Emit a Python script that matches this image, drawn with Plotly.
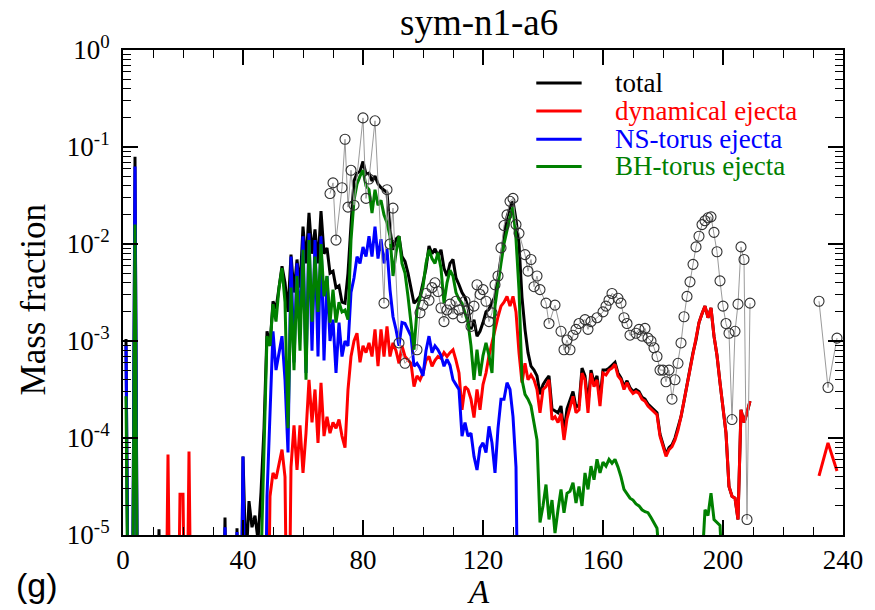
import plotly.graph_objects as go

# ---------------------------------------------------------------------------
# Nucleosynthesis yields of model sym-n1-a6: mass fraction versus mass number A.
# Values are stored as log10(mass fraction); FLOOR marks abundances far below
# the plotted range (the curve simply drops off the bottom axis there).
# ---------------------------------------------------------------------------
FLOOR = -7.0
F = FLOOR

# total ejecta
total_A = [1, 2, 3, 4, 5, 11, 12, 13, 33, 34, 35, 37, 38, 39, 40, 41, 42, 43, 44, 45, 46, 47] + list(range(48, 210))
total_log = [
    -2.98, F, F, -1.10, F, F, -4.94, F, F, -4.82, F, F, -4.93, F, -4.19, -5.3, -4.65, -4.92, -4.80, -5.05, -4.56, -3.9,
    -2.90, -3.05, -2.59, -2.67, -2.45, -2.23, -2.40, -2.70, -2.11, -2.50,
    -2.16, -2.45, -1.82, -2.20, -1.68, -2.10, -1.85, -2.20, -1.66, -2.10,
    -2.04, -2.30, -2.28, -2.45, -2.43, -2.60, -2.61, -2.30, -1.80, -1.35,
    -1.27, -1.25, -1.15, -1.28, -1.27, -1.35, -1.30, -1.38, -1.42, -1.45,
    -1.47, -1.85, -2.06, -1.95, -1.92, -2.13, -2.18, -2.30, -2.47, -2.61,
    -2.58, -2.54, -2.40, -2.25, -2.02, -2.10, -2.05, -2.12, -2.06, -2.25,
    -2.33, -2.20, -2.16, -2.35, -2.42, -2.50, -2.55, -2.65, -2.88, -2.78,
    -2.95, -2.90, -2.81, -2.70, -2.67, -2.60, -2.54, -2.35, -2.15, -1.92,
    -1.72, -1.62, -1.56, -1.75, -2.00, -2.55, -2.88, -3.12, -3.26, -3.30,
    -3.36, -3.55, -3.45, -3.40, -3.36, -3.70, -3.72, -3.74, -3.67, -3.95,
    -3.70, -3.60, -3.52, -3.68, -3.66, -3.28, -3.36, -3.65, -3.30, -3.43,
    -3.36, -3.60, -3.30, -3.30, -3.28, -3.25, -3.22, -3.33, -3.38, -3.47,
    -3.41, -3.48, -3.52, -3.50, -3.52, -3.58, -3.60, -3.65, -3.68, -3.72,
    -3.74, -3.96, -4.08, -4.17, -4.10, -4.07, -4.00, -3.90, -3.78, -3.62,
    -3.45, -3.30, -3.12, -2.99, -2.81, -2.72, -2.64, -2.76, -2.66, -2.95,
    -3.15, -3.43, -3.70, -3.95, -4.50, -4.60, -4.62, -4.84, -3.71, -3.84,
    -3.74, -3.62,
]

# dynamical ejecta (None breaks the line between A=209 and the actinides)
dyn_A = [14, 15, 16, 18, 19, 20, 21, 22, 23] + list(range(48, 210)) + [220, 232, 235, 238]
dyn_log = [
    F, -4.17, F, F, -4.58, -4.58, F, -4.14, F,
    F, -4.60, -4.36, -4.42, -4.25, -4.12, -4.40, F, -4.30, -3.87,
    -4.33, -3.87, -4.36, -3.95, -3.40, -3.84, -3.50, -4.05, -3.43, -3.98,
    -3.78, -3.95, -3.84, -3.90, -3.81, -3.98, -4.10, -3.50, -3.16, -3.00,
    -2.92, -3.22, -3.05, -3.12, -3.02, -3.16, -2.88, -3.26, -2.88, -3.16,
    -2.85, -3.16, -3.02, -3.10, -3.23, -3.05, -3.16, -3.20, -3.23, -3.47,
    -3.36, -3.40, -3.33, -3.20, -3.16, -3.26, -3.20, -3.16, -3.18, -3.12,
    -3.16, -3.12, -3.09, -3.20, -3.33, -3.71, -3.47, -3.50, -3.60, -3.79,
    -3.50, -3.71, -3.45, -3.33, -3.15, -3.02, -2.88, -2.75, -2.64, -2.60,
    -2.54, -2.64, -2.54, -2.70, -3.12, -3.43, -3.23, -3.40, -3.35, -3.40,
    -3.50, -3.74, -3.50, -3.47, -3.40, -3.81, -3.78, -3.84, -3.75, -4.02,
    -3.80, -3.67, -3.57, -3.74, -3.71, -3.33, -3.40, -3.74, -3.33, -3.47,
    -3.40, -3.67, -3.33, -3.35, -3.30, -3.28, -3.24, -3.36, -3.40, -3.50,
    -3.43, -3.50, -3.54, -3.52, -3.54, -3.60, -3.62, -3.67, -3.70, -3.74,
    -3.76, -3.98, -4.10, -4.19, -4.12, -4.09, -4.02, -3.92, -3.78, -3.62,
    -3.45, -3.30, -3.12, -2.99, -2.81, -2.72, -2.64, -2.76, -2.66, -2.95,
    -3.15, -3.43, -3.70, -3.95, -4.50, -4.60, -4.62, -4.84, -3.71, -3.84,
    -3.74, -3.62,
    None, -4.39, -4.05, -4.34,
]

# NS-torus ejecta
ns_A = [1, 2, 3, 4, 5, 33, 34, 35, 37, 38, 39, 40, 41, 47] + list(range(48, 133))
ns_log = [
    -3.05, F, F, -1.20, F, F, -4.92, F, F, -4.97, F, -4.19, F, F,
    -4.60, -3.80, -2.90, -3.30, -3.10, -2.95, -3.40, -4.15, -2.13, -3.22,
    -2.20, -2.90, -1.92, -3.33, -1.89, -3.10, -1.96, -3.16, -1.92, -3.20,
    -2.33, -3.00, -2.78, -3.33, -2.81, -3.16, -3.00, -3.05, -2.50, -2.35,
    -2.13, -2.20, -2.03, -2.13, -1.92, -2.13, -1.82, -2.15, -1.95, -2.20,
    -2.05, -2.47, -2.75, -2.88, -3.05, -2.81, -2.82, -2.88, -2.95, -3.26,
    -3.23, -3.28, -3.36, -3.10, -2.95, -3.12, -3.05, -3.09, -3.15, -3.26,
    -3.19, -3.25, -3.40, -3.45, -3.50, -3.98, -3.84, -3.98, -3.95, -4.19,
    -4.33, -4.10, -4.05, -4.15, -3.88, -4.05, -4.36, -3.90, -3.60, -3.60,
    -3.43, -3.50, -3.78, -4.30, F,
]

# BH-torus ejecta
bh_A = [1, 2, 3, 4, 5, 45, 46, 47] + list(range(48, 202))
bh_log = [
    -3.57, F, F, -1.80, F, F, -5.3, -4.0,
    -2.95, -3.05, -2.62, -2.80, -2.45, -2.25, -2.60, -3.90, -2.45, -3.30,
    -2.33, -3.10, -2.06, -3.40, -1.96, -2.80, -2.13, -2.70, -2.00, -2.54,
    -2.33, -2.81, -2.47, -2.81, -2.60, -2.70, -2.68, -2.78, -1.96, -1.55,
    -1.38, -1.30, -1.24, -1.40, -1.44, -1.68, -1.44, -1.60, -1.55, -1.70,
    -1.78, -1.92, -2.33, -2.09, -1.92, -2.20, -2.30, -2.54, -2.80, -3.09,
    -2.68, -2.55, -2.44, -2.20, -2.06, -2.15, -2.20, -2.09, -2.25, -2.61,
    -2.40, -2.27, -2.33, -2.50, -2.57, -2.61, -2.70, -2.81, -3.05, -3.40,
    -3.09, -3.36, -3.15, -3.02, -3.15, -3.33, -2.64, -2.40, -2.20, -2.00,
    -1.85, -1.72, -1.62, -1.95, -2.47, -3.40, -3.55, -3.60, -3.67, -3.85,
    -4.02, -4.87, -4.70, -4.48, -4.84, -4.64, -4.98, -4.74, -4.53, -4.77,
    -4.57, -4.55, -4.46, -4.67, -4.50, -4.70, -4.36, -4.53, -4.29, -4.43,
    -4.22, -4.36, -4.25, -4.29, -4.22, -4.26, -4.22, -4.30, -4.40, -4.53,
    -4.58, -4.62, -4.64, -4.68, -4.70, -4.74, -4.76, -4.77, -4.82, -4.87,
    -4.93, -5.30, F, F, F, F, F, F, F, F,
    F, F, F, F, F, -5.3, -4.74, -4.80, -4.57, -4.84,
    -4.87, -4.90, -5.5, F,
]

# scaled solar r-process abundances (open circles)
solar_A = [69, 70, 71, 73, 74, 75, 76, 77, 80, 81, 82, 84, 87, 88, 89, 90, 92, 94, 98,
           99, 100, 101, 102, 103, 104, 105, 106, 107, 108, 109, 110, 111, 112, 113, 114,
           115, 116, 117, 118, 119, 120, 121, 122, 123, 124, 125, 126, 127, 128, 129, 130,
           131, 132, 134, 135, 136, 137, 138, 139, 141, 142, 144, 146, 147, 148, 149, 150,
           151, 152, 154, 155, 156, 158, 160, 161, 162, 163, 165, 166, 167, 168, 169, 171,
           172, 173, 174, 175, 176, 177, 178, 179, 180, 181, 182, 183, 184, 185, 186, 187,
           188, 189, 190, 191, 192, 193, 194, 195, 196, 197, 198, 199, 200, 201, 202, 203,
           204, 205, 206, 207, 208, 209, 220, 232, 235, 238]
solar_log = [-1.48, -1.37, -1.96, -1.42, -0.92, -1.62, -1.24, -1.60, -0.70, -1.53, -1.33, -0.73,
             -2.61, -1.44, -2.00, -1.63, -3.02, -3.23, -3.09,
             -2.71, -2.63, -2.51, -2.58, -2.45, -2.40, -2.49, -2.66, -2.80, -2.68, -2.62, -2.72,
             -2.59, -2.68, -2.76, -2.59, -2.68, -2.85, -2.64, -2.42, -2.52, -2.47, -2.59, -2.80,
             -2.71, -2.42, -2.33, -2.04, -1.81, -1.70, -1.56, -1.53,
             -1.80, -1.89, -2.11, -2.28, -2.16, -2.44, -2.33, -2.47, -2.61, -2.82, -2.63, -2.90,
             -3.09, -2.99, -3.09, -2.94, -2.88, -2.82, -2.78, -2.88, -2.80, -2.76, -2.70, -2.64,
             -2.58, -2.51, -2.56, -2.61, -2.76, -2.82, -2.94, -2.92, -2.88, -2.95, -2.87, -2.97,
             -3.00, -3.07, -3.16, -3.30, -3.30, -3.42, -3.30, -3.60, -3.40, -3.23, -3.02, -2.75,
             -2.54, -2.39, -2.21, -2.03, -1.92, -1.80, -1.76, -1.73, -1.72, -1.88, -2.08, -2.38,
             -2.64, -2.82, -2.92, -3.81, -2.90, -2.62, -2.03, -2.16, -4.84, -2.61,
             None, -2.59, -3.48, -2.97]

x_tick_vals = [0, 40, 80, 120, 160, 200, 240]
y_tick_exps = [-5, -4, -3, -2, -1, 0]

SERIF = "Liberation Serif"
SANS = "Liberation Sans"


def to_fraction(logs):
    return [None if v is None else 10.0 ** v for v in logs]


series = [
    ("total", total_A, total_log, "#000000"),
    ("dynamical ejecta", dyn_A, dyn_log, "#ff0000"),
    ("NS-torus ejecta", ns_A, ns_log, "#0000ff"),
    ("BH-torus ejecta", bh_A, bh_log, "#008000"),
]

fig = go.Figure()
for name, a, lg, color in series:
    fig.add_trace(go.Scatter(
        x=a, y=to_fraction(lg), mode="lines", name=name,
        line=dict(color=color, width=3), connectgaps=False, showlegend=False,
    ))

fig.add_trace(go.Scatter(
    x=solar_A, y=to_fraction(solar_log), mode="lines+markers", name="solar r",
    line=dict(color="#9a9a9a", width=1),
    marker=dict(symbol="circle-open", size=10, color="#303030", line=dict(width=1.1)),
    connectgaps=False, showlegend=False,
))

# legend drawn as line samples + coloured labels in the upper right
legend_rows = [0.932, 0.874, 0.816, 0.760]
for (name, _, _, color), yrow in zip(series, legend_rows):
    fig.add_shape(type="line", xref="paper", yref="paper",
                  x0=0.574, x1=0.637, y0=yrow, y1=yrow,
                  line=dict(color=color, width=3))
    fig.add_annotation(text=name, xref="paper", yref="paper", x=0.681, y=yrow,
                       xanchor="left", yanchor="middle", showarrow=False,
                       font=dict(family=SERIF, size=27, color=color))

fig.add_annotation(text="sym-n1-a6", xref="paper", yref="paper", x=0.494, y=1.0,
                   yshift=28, xanchor="center", yanchor="middle", showarrow=False,
                   font=dict(family=SERIF, size=37, color="black"))
fig.add_annotation(text="Mass fraction", xref="paper", yref="paper", x=-0.124, y=0.485,
                   textangle=-90, xanchor="center", yanchor="middle", showarrow=False,
                   font=dict(family=SERIF, size=35, color="black"))
fig.add_annotation(text="<i>A</i>", xref="paper", yref="paper", x=0.494, y=-0.118,
                   xanchor="center", yanchor="middle", showarrow=False,
                   font=dict(family=SERIF, size=33, color="black"))
fig.add_annotation(text="(g)", xref="paper", yref="paper", x=-0.119, y=-0.103,
                   xanchor="center", yanchor="middle", showarrow=False,
                   font=dict(family=SANS, size=34, color="black"))

axis_common = dict(
    showline=True, linecolor="black", linewidth=2, mirror="ticks",
    ticks="inside", ticklen=15, tickwidth=1.5, tickcolor="black",
    showgrid=False, zeroline=False,
    tickfont=dict(family=SERIF, size=27, color="black"),
)

fig.update_xaxes(
    range=[0, 240], tickmode="array", tickvals=x_tick_vals,
    minor=dict(dtick=10, ticks="inside", ticklen=8, tickwidth=1, tickcolor="black", showgrid=False),
    **axis_common,
)

minor_y = [m * 10.0 ** e for e in y_tick_exps[:-1] for m in range(2, 10)]
fig.update_yaxes(
    type="log", range=[-5, 0], tickmode="array",
    tickvals=[10.0 ** e for e in y_tick_exps],
    ticktext=["10<sup>%d</sup>" % e for e in y_tick_exps],
    minor=dict(tickmode="array", tickvals=minor_y, ticks="inside", ticklen=8,
               tickwidth=1, tickcolor="black", showgrid=False),
    ticklabelstandoff=6,
    **axis_common,
)

fig.update_layout(
    width=875, height=610,
    margin=dict(l=123, r=27, t=50, b=75),
    paper_bgcolor="white", plot_bgcolor="white",
    showlegend=False,
)

fig.write_html("out.html")
